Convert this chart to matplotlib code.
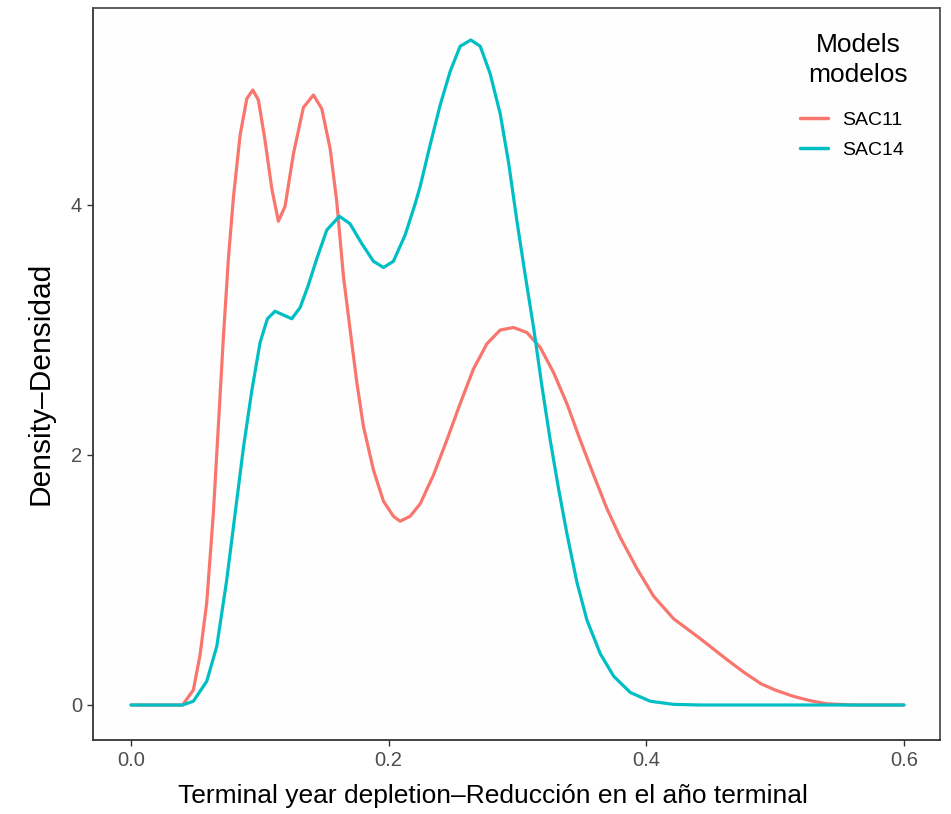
import matplotlib
matplotlib.use("Agg")
import matplotlib.pyplot as plt

plt.rcParams['font.family'] = ['Liberation Sans', 'DejaVu Sans']

# SAC11 density curve
sac11_x = [0.000, 0.040, 0.0484, 0.0536, 0.0588, 0.0639, 0.0678, 0.0717, 0.0756,
           0.0795, 0.0847, 0.0899, 0.0945, 0.0989, 0.1040, 0.1093, 0.1144, 0.1196,
           0.1261, 0.1338, 0.1416, 0.1481, 0.1546, 0.1597, 0.1649, 0.1700, 0.1753,
           0.1804, 0.1882, 0.1960, 0.2037, 0.2089, 0.2167, 0.2245, 0.2348, 0.2452,
           0.2555, 0.2659, 0.2763, 0.2866, 0.2969, 0.3073, 0.3177, 0.3280, 0.3384,
           0.3487, 0.3591, 0.3695, 0.3798, 0.3928, 0.4057, 0.4212, 0.4420, 0.4630,
           0.4760, 0.4890, 0.5000, 0.5140, 0.5270, 0.5400, 0.5600, 0.6000]
sac11_y = [0.00, 0.00, 0.12, 0.40, 0.82, 1.53, 2.23, 2.94, 3.57,
           4.06, 4.56, 4.85, 4.92, 4.84, 4.52, 4.13, 3.87, 3.99,
           4.41, 4.78, 4.88, 4.77, 4.45, 4.03, 3.43, 3.01, 2.58,
           2.23, 1.88, 1.63, 1.51, 1.47, 1.51, 1.61, 1.84, 2.12,
           2.41, 2.69, 2.89, 3.00, 3.02, 2.98, 2.86, 2.66, 2.41,
           2.12, 1.84, 1.57, 1.34, 1.09, 0.87, 0.69, 0.53, 0.36,
           0.26, 0.17, 0.12, 0.07, 0.035, 0.01, 0.00, 0.00]

# SAC14 density curve
sac14_x = [0.000, 0.040, 0.0484, 0.0588, 0.0666, 0.0743, 0.0808, 0.0873, 0.0937,
           0.1002, 0.1059, 0.1118, 0.1183, 0.1248, 0.1313, 0.1377, 0.1442, 0.1520,
           0.1618, 0.1700, 0.1792, 0.1882, 0.1960, 0.2037, 0.2128, 0.2206, 0.2245,
           0.2322, 0.2400, 0.2478, 0.2555, 0.2638, 0.2711, 0.2788, 0.2866, 0.2931,
           0.2996, 0.3060, 0.3125, 0.3190, 0.3254, 0.3319, 0.3384, 0.3462, 0.3539,
           0.3643, 0.3747, 0.3876, 0.4031, 0.4212, 0.4420, 0.6000]
sac14_y = [0.00, 0.00, 0.03, 0.19, 0.47, 1.00, 1.53, 2.06, 2.51,
           2.90, 3.09, 3.15, 3.12, 3.09, 3.18, 3.36, 3.57, 3.80,
           3.91, 3.85, 3.69, 3.55, 3.50, 3.55, 3.76, 4.01, 4.15,
           4.48, 4.80, 5.07, 5.27, 5.32, 5.27, 5.05, 4.73, 4.34,
           3.87, 3.44, 3.02, 2.55, 2.12, 1.73, 1.37, 0.98, 0.68,
           0.41, 0.23, 0.10, 0.03, 0.005, 0.00, 0.00]

series_names = ["SAC11", "SAC14"]
series_colors = ["#F8766D", "#00BFC4"]
legend_title = "Models\nmodelos"
x_ticks = [0.0, 0.2, 0.4, 0.6]
x_tick_labels = ["0.0", "0.2", "0.4", "0.6"]
y_ticks = [0, 2, 4]
y_tick_labels = ["0", "2", "4"]

fig = plt.figure(figsize=(9.51, 8.14), dpi=100)
ax = fig.add_axes([93/951, 74/814, (940-93)/951, (740-8)/814])
ax.set_facecolor("#FEFEFE")

ax.plot(sac11_x, sac11_y, color=series_colors[0], lw=2.3, label=series_names[0],
        solid_joinstyle='round', solid_capstyle='round')
ax.plot(sac14_x, sac14_y, color=series_colors[1], lw=2.3, label=series_names[1],
        solid_joinstyle='round', solid_capstyle='round')

ax.set_xlim(-0.0295, 0.628)
ax.set_ylim(-0.28, 5.576)
ax.set_xticks(x_ticks)
ax.set_xticklabels(x_tick_labels)
ax.set_yticks(y_ticks)
ax.set_yticklabels(y_tick_labels)

for s in ax.spines.values():
    s.set_color("#505050")
    s.set_linewidth(1.3)
ax.spines['left'].set_color("#333333")
ax.spines['bottom'].set_color("#333333")
ax.tick_params(axis='both', direction='out', length=4, width=1, color="#333333",
               labelsize=14.5, labelcolor="#4D4D4D", pad=4)

ax.set_xlabel("Terminal year depletion\u2013Reducción en el año terminal",
              fontsize=19, color="black")
ax.xaxis.set_label_coords((493-93)/847, -(784-740)/732)
ax.set_ylabel("Density\u2013Densidad", fontsize=21.5, color="black")
ax.yaxis.set_label_coords(-(93-55)/847, (740-383)/732)

leg = ax.legend(loc="upper left", bbox_to_anchor=((800-93)/847, (740-111)/732),
                frameon=False, fontsize=14, handlelength=1.44,
                handletextpad=0.72, labelspacing=0.64, borderpad=0,
                borderaxespad=0)
for line in leg.get_lines():
    line.set_linewidth(2.5)

ax.text((858-93)/847, (740-60)/732, legend_title, transform=ax.transAxes,
        ha="center", va="center", multialignment="center", fontsize=19,
        linespacing=1.3, color="black")

fig.savefig("out.png", dpi=100)
